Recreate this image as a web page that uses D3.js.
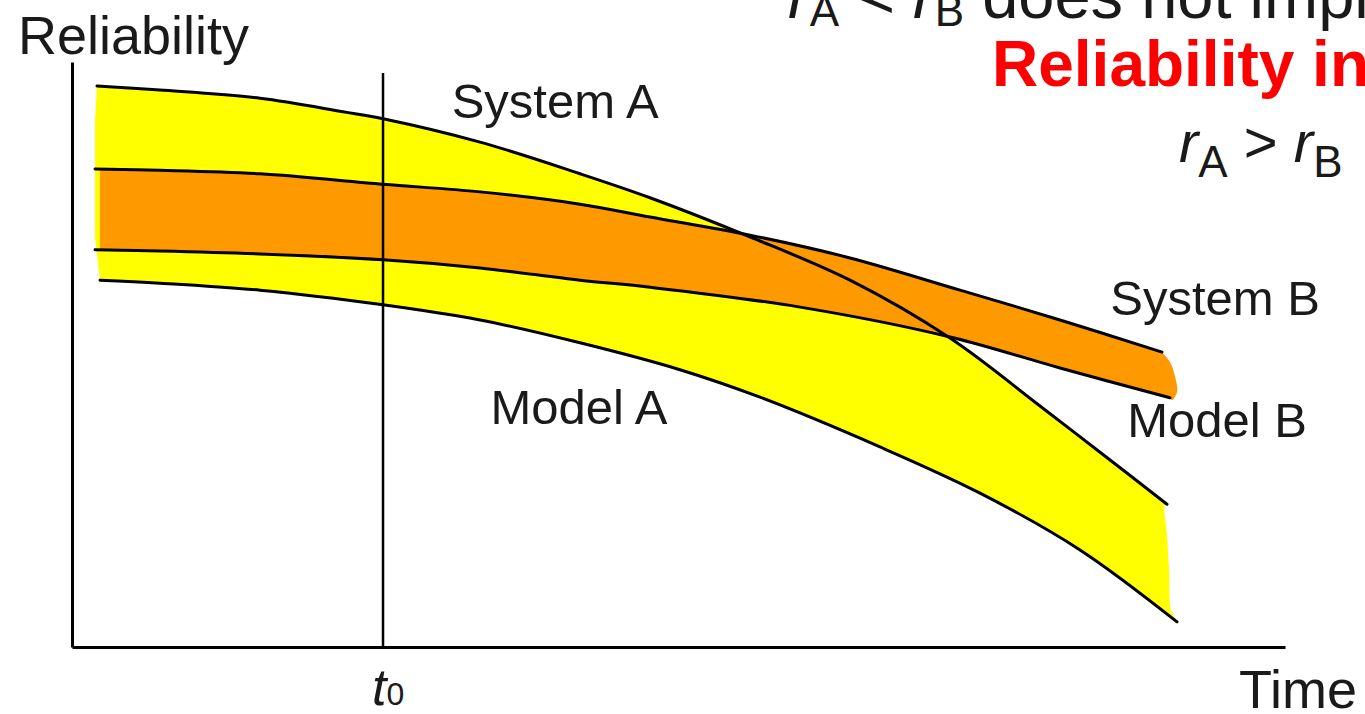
<!DOCTYPE html>
<html>
<head>
<meta charset="utf-8">
<script src="https://cdn.jsdelivr.net/npm/d3@7/dist/d3.min.js"></script>
<style>
  html, body { margin: 0; padding: 0; background: #fff; overflow: hidden; }
  svg { display: block; }
  text { font-family: "Liberation Sans", Arial, Helvetica, sans-serif; fill: #1a1a1a; }
</style>
</head>
<body>
<svg id="chart" width="1365" height="714"></svg>
<script>
// ---- data: [time, reliability] (time in arbitrary units 0..100, reliability 0..1)
const systemA = [[2.06,0.959],[7.25,0.952],[15.5,0.938],[22.34,0.915],[25.64,0.903],[33.64,0.863],[41.88,0.809],[47.65,0.768],[55.89,0.701],[64.14,0.627],[72.38,0.528],[79.8,0.412],[84.75,0.333],[90.27,0.244]];
const modelA  = [[2.31,0.627],[7.25,0.622],[15.5,0.610],[25.64,0.585],[33.64,0.559],[41.88,0.520],[50.12,0.474],[56.72,0.427],[66.61,0.342],[74.86,0.263],[83.1,0.166],[91.1,0.043]];
const systemB = [[1.9,0.817],[7.25,0.815],[15.5,0.809],[25.64,0.791],[33.64,0.778],[41.88,0.757],[47.65,0.735],[55.89,0.704],[64.14,0.665],[73.21,0.610],[81.45,0.559],[89.86,0.504]];
const modelB  = [[1.9,0.679],[7.25,0.677],[15.5,0.672],[25.64,0.662],[33.64,0.648],[41.88,0.627],[47.65,0.615],[60.02,0.581],[72.38,0.530],[81.45,0.477],[90.52,0.426]];
// right-hand end caps of the bands
const capA = [[90.1,0.243],[90.27,0.191],[90.44,0.132],[90.6,0.063]];
const capB = [[90.52,0.487],[91.01,0.456],[91.1,0.436],[90.68,0.422]];
const leftA = [[1.9,0.70],[1.9,0.90]];
const t0 = 25.64;
const t0Top = 0.981;
const bandBStart = 2.3;

const labels = [
  {text: "System A", t: 31.3, r: 0.905},
  {text: "Model A",  t: 34.5, r: 0.381},
  {text: "System B", t: 85.6, r: 0.567},
  {text: "Model B",  t: 87.0, r: 0.359}
];

// ---- scales
const svg = d3.select("#chart");
const x = d3.scaleLinear().domain([0, 100]).range([72, 1285]);
const y = d3.scaleLinear().domain([0, 1]).range([647, 62]);

const line = d3.line().x(d => x(d[0])).y(d => y(d[1])).curve(d3.curveCatmullRom.alpha(0.5));
const straight = d3.line().x(d => x(d[0])).y(d => y(d[1]));
const asL = p => "L" + p.substring(1);

// ---- band A (yellow)
const pathA = line(systemA)
  + asL(line([systemA[systemA.length-1], ...capA, modelA[modelA.length-1]]))
  + asL(line(modelA.slice().reverse()))
  + asL(straight([modelA[0], ...leftA, systemA[0]]))
  + "Z";
svg.append("path").attr("d", pathA).attr("fill", "#ffff00");

// ---- band B (orange)
svg.append("clipPath").attr("id", "clipB")
  .append("rect").attr("x", x(bandBStart)).attr("y", 0).attr("width", 1365).attr("height", 714);
const pathB = line(systemB)
  + asL(line([systemB[systemB.length-1], ...capB, modelB[modelB.length-1]]))
  + asL(line(modelB.slice().reverse()))
  + "Z";
svg.append("path").attr("d", pathB).attr("fill", "#ff9900").attr("clip-path", "url(#clipB)");

// ---- curves
[systemA, systemB, modelB, modelA].forEach(c => {
  svg.append("path").attr("d", line(c))
    .attr("fill", "none").attr("stroke", "#000").attr("stroke-width", 3).attr("stroke-linecap", "round");
});

// ---- axes
svg.append("g").attr("transform", `translate(0,${y(0)})`)
  .call(d3.axisBottom(x).tickValues([]).tickSizeOuter(0));
svg.append("g").attr("transform", `translate(${x(0)},0)`)
  .call(d3.axisLeft(y).tickValues([]).tickSizeOuter(0));
svg.selectAll(".domain").attr("stroke", "#000").attr("stroke-width", 3);

// t0 line
svg.append("line")
  .attr("x1", x(t0)).attr("x2", x(t0)).attr("y1", y(0)).attr("y2", y(t0Top))
  .attr("stroke", "#000").attr("stroke-width", 2.5);

// ---- labels
svg.append("text").attr("x", 18).attr("y", 54).attr("font-size", 54).text("Reliability");
svg.append("text").attr("x", 1239).attr("y", 708).attr("font-size", 54).text("Time");

const t0lab = svg.append("text").attr("x", x(t0) - 11).attr("y", 705);
t0lab.append("tspan").attr("font-size", 52).attr("font-style", "italic").text("t");
t0lab.append("tspan").attr("font-size", 32).text("0");

labels.forEach(l => {
  svg.append("text").attr("x", x(l.t)).attr("y", y(l.r)).attr("font-size", 49).text(l.text);
});

// ---- top-right statements
const l1 = svg.append("text").attr("x", 788).attr("y", 18).attr("font-size", 65);
l1.append("tspan").attr("font-style", "italic").text("r");
l1.append("tspan").attr("font-size", 44).attr("dy", 8).text("A");
l1.append("tspan").attr("dy", -8).text(" < ");
l1.append("tspan").attr("font-style", "italic").text("r");
l1.append("tspan").attr("font-size", 44).attr("dy", 8).text("B");
l1.append("tspan").attr("dy", -8).text(" does not imply");

svg.append("text").attr("x", 992).attr("y", 86).attr("font-size", 64)
  .attr("font-weight", "bold").style("fill", "#ff0000").text("Reliability in");

const l3 = svg.append("text").attr("x", 1179).attr("y", 162).attr("font-size", 58);
l3.append("tspan").attr("font-style", "italic").text("r");
l3.append("tspan").attr("font-size", 44).attr("dy", 15).text("A");
l3.append("tspan").attr("dy", -15).text(" > ");
l3.append("tspan").attr("font-style", "italic").text("r");
l3.append("tspan").attr("font-size", 44).attr("dy", 15).text("B");
</script>
</body>
</html>
